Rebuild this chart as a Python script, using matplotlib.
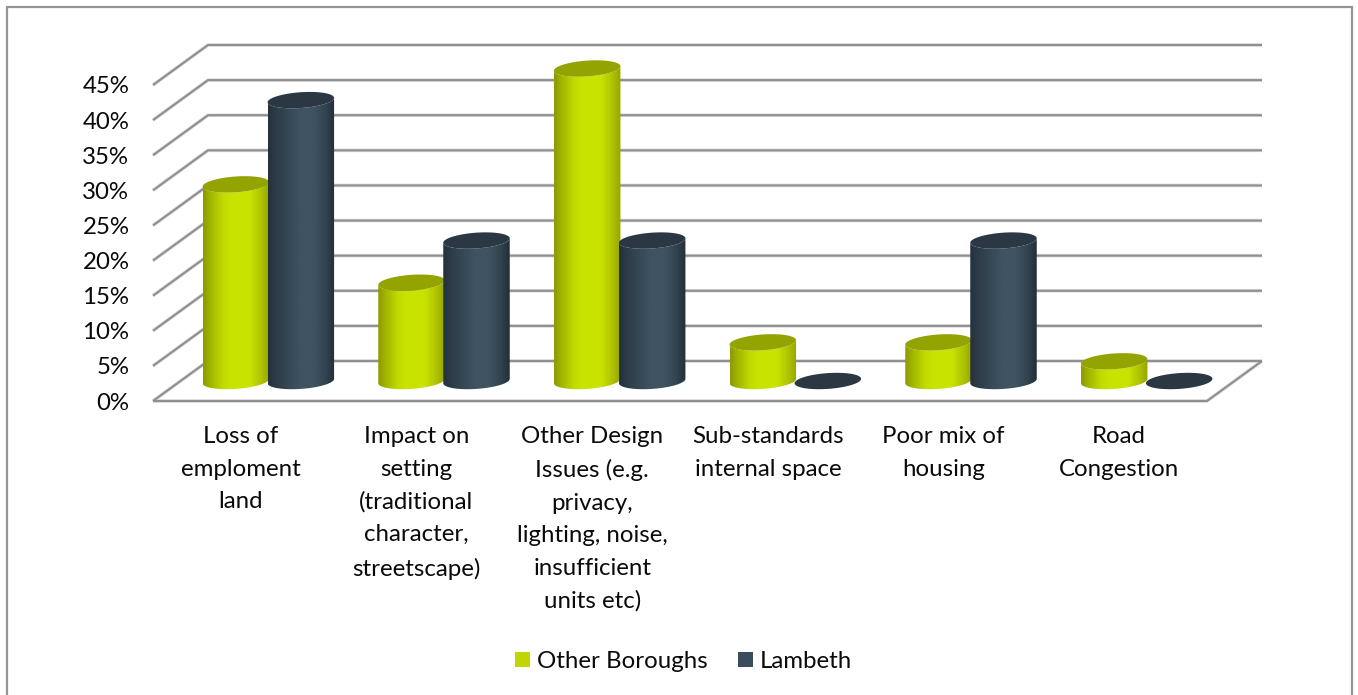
import numpy as np
import matplotlib
matplotlib.use("Agg")
import matplotlib.pyplot as plt
from matplotlib.colors import LinearSegmentedColormap
from matplotlib.patches import Patch, Polygon, Rectangle

categories = [
    "Loss of\nemploment\nland",
    "Impact on\nsetting\n(traditional\ncharacter,\nstreetscape)",
    "Other Design\nIssues (e.g.\nprivacy,\nlighting, noise,\ninsufficient\nunits etc)",
    "Sub-standards\ninternal space",
    "Poor mix of\nhousing",
    "Road\nCongestion",
]
other_boroughs = [28, 14, 44.5, 5.5, 5.5, 2.8]
lambeth = [40, 20, 20, 0, 20, 0]
y_ticks = [0, 5, 10, 15, 20, 25, 30, 35, 40, 45]

W, H = 1358, 695
DPI = 100
plt.rcParams["font.family"] = ["Lato", "DejaVu Sans"]

fig = plt.figure(figsize=(W / DPI, H / DPI), dpi=DPI, facecolor="white")
# Chart frame; its lower edge runs past the bottom of the canvas
fig.add_artist(Rectangle((6.5 / W, 1 - 710 / H), 1345.5 / W, 703.5 / H, transform=fig.transFigure,
                         fill=False, edgecolor="#959595", linewidth=1.6))

# Axes span the front plane of the 3D box: 0-6 categories across, 0-45% up.
left, right, bottom_px, top_px = 153, 1207, 401, 85
ax = fig.add_axes([left / W, 1 - bottom_px / H, (right - left) / W, (bottom_px - top_px) / H])
ax.set_xlim(0, len(categories))
ax.set_ylim(0, 45)
ax.patch.set_alpha(0)
for s in ax.spines.values():
    s.set_visible(False)

px_x = len(categories) / (right - left)
px_y = 45 / (bottom_px - top_px)
depth_x, depth_y = 55 * px_x, 40 * px_y


def grid_line(xs, ys):
    ax.plot(xs, ys, color="#dcdcdc", lw=2.6, clip_on=False, zorder=1, solid_capstyle="butt")
    ax.plot(xs, ys, color="#8f8f8f", lw=1.5, clip_on=False, zorder=1.1, solid_capstyle="butt")


# Wall gridlines, then the floor outline
x_max = len(categories)
for v in y_ticks:
    grid_line([0, depth_x, x_max + depth_x], [v, v + depth_y, v + depth_y])
grid_line([0, x_max, x_max + depth_x], [0, 0, depth_y])

# Cylinder cross-section: a sheared ellipse lying in the floor plane
RADIUS_X, SHEAR_X, RADIUS_Y = 32.0 * px_x, 9.0 * px_x, 8.2 * px_y
BAR_OFFSET = 32.5 * px_x
t = np.linspace(0, 2 * np.pi, 241)
ell_x = RADIUS_X * np.cos(t) + SHEAR_X * np.sin(t)
ell_y = RADIUS_Y * np.sin(t)
t_right = np.arctan2(SHEAR_X / px_x, RADIUS_X / px_x)
edge_x = np.hypot(RADIUS_X, SHEAR_X)

side_other = LinearSegmentedColormap.from_list("side_other", [
    (0, "#8a9a00"), (0.12, "#a3b800"), (0.3, "#c2da00"), (0.42, "#c9e300"),
    (0.7, "#c9e300"), (0.86, "#b0c600"), (1, "#94a600")])
side_lambeth = LinearSegmentedColormap.from_list("side_lambeth", [
    (0, "#25323d"), (0.22, "#324350"), (0.48, "#3f5363"),
    (0.68, "#3f5363"), (0.86, "#334450"), (1, "#222e38")])
gradient = np.linspace(0, 1, 256).reshape(1, -1)


def cylinder(cx, value, cmap, top_color, z):
    base_y = depth_y / 2
    top_y = base_y + value
    if value > 0:
        arc = np.linspace(t_right, t_right - np.pi, 120)
        bx = cx + RADIUS_X * np.cos(arc) + SHEAR_X * np.sin(arc)
        by = base_y + RADIUS_Y * np.sin(arc)
        tx = bx[::-1]
        ty = (top_y + RADIUS_Y * np.sin(arc))[::-1]
        body = Polygon(np.column_stack([np.r_[bx, tx], np.r_[by, ty]]),
                       closed=True, transform=ax.transData, facecolor="none", edgecolor="none")
        ax.add_patch(body)
        img = ax.imshow(gradient, cmap=cmap, aspect="auto", interpolation="bilinear", zorder=z,
                        extent=[cx - edge_x, cx + edge_x, base_y - 2 * RADIUS_Y, top_y + 2 * RADIUS_Y])
        img.set_clip_path(body)
        img.set_clip_box(fig.bbox)
    ax.fill(cx + ell_x, top_y + ell_y, color=top_color, zorder=z + 0.01, lw=0, clip_on=False)


for i, (o, l) in enumerate(zip(other_boroughs, lambeth)):
    center = i + 0.5 + depth_x / 2
    cylinder(center - BAR_OFFSET, o, side_other, "#93a400", 2 + 2 * i)
    cylinder(center + BAR_OFFSET, l, side_lambeth, "#2b3844", 3 + 2 * i)

ax.set_xlim(0, len(categories))
ax.set_ylim(0, 45)

FS = 17.3
TEXT = "#0a0a0a"
ax.set_yticks(y_ticks)
ax.set_yticklabels([f"{v}%" for v in y_ticks], fontsize=FS, color=TEXT)
ax.set_xticks(np.arange(len(categories)) + 0.5)
ax.set_xticklabels(categories, fontsize=FS, color=TEXT, linespacing=1.67, va="top")
ax.tick_params(axis="both", length=0)
ax.tick_params(axis="y", pad=17)
ax.tick_params(axis="x", pad=18.2)

handles = [Patch(facecolor="#bfd600", label="Other Boroughs"), Patch(facecolor="#3b4d5c", label="Lambeth")]
fig.legend(handles=handles, ncol=2, loc="center", bbox_to_anchor=(683.5 / W, 1 - 661.5 / H), frameon=False,
           fontsize=FS, handlelength=0.63, handleheight=0.63, handletextpad=0.29, columnspacing=1.25,
           labelcolor=TEXT)

fig.savefig("out.png", dpi=DPI, facecolor="white")
